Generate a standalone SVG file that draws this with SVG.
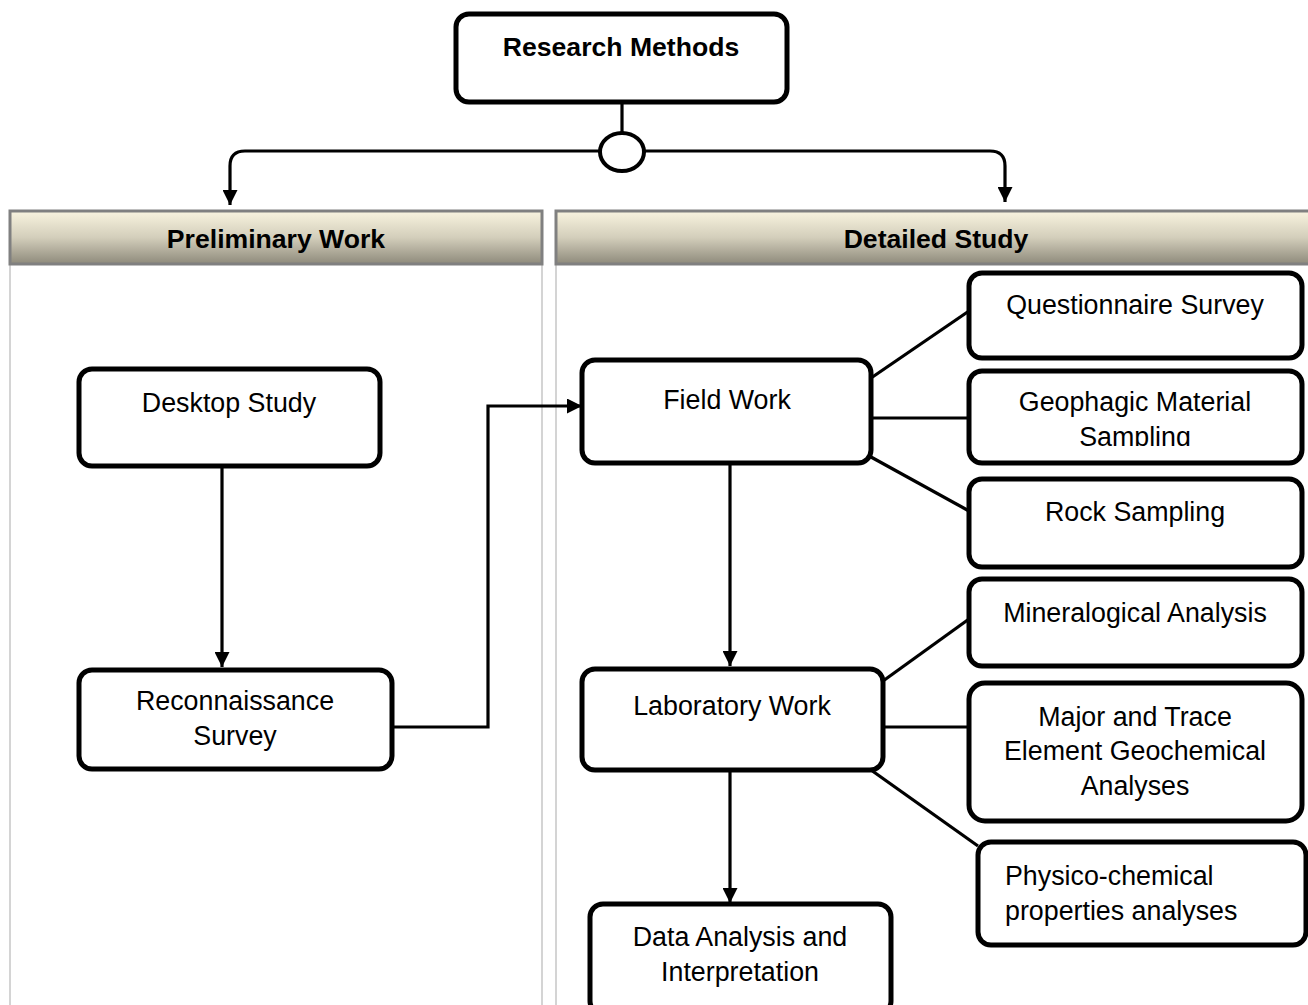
<svg xmlns="http://www.w3.org/2000/svg" width="1308" height="1005" viewBox="0 0 1308 1005">
<style>
.box{fill:#fff;stroke:#000;stroke-width:5}
.t{font-family:"Liberation Sans",Arial,sans-serif;font-size:26.8px;fill:#000;text-anchor:middle}
.b{font-weight:bold;font-size:26.6px}
.s{text-anchor:start}
.hdr{stroke:#808080;stroke-width:3;fill:url(#g)}
.col{stroke:#d4d4d4;stroke-width:2;fill:none}
.c{stroke:#000;stroke-width:3.2;fill:none}
</style>
<defs>
<linearGradient id="g" x1="0" y1="0" x2="0" y2="1">
<stop offset="0" stop-color="#f9f4df"/>
<stop offset="0.5" stop-color="#d3cebb"/>
<stop offset="1" stop-color="#8e8a7b"/>
</linearGradient>
<marker id="ah" markerUnits="userSpaceOnUse" markerWidth="16" markerHeight="15" refX="15" refY="7.5" orient="auto">
<path d="M0,0 L15,7.5 L0,15 z" fill="#000"/>
</marker>
<clipPath id="geoclip"><rect x="969" y="370" width="333" height="76"/></clipPath>
</defs>

<g id="columns">
<line class="col" x1="10" y1="264" x2="10" y2="1005"/>
<line class="col" x1="542" y1="264" x2="542" y2="1005"/>
<line class="col" x1="556" y1="264" x2="556" y2="1005"/>
</g>

<g id="header-preliminary">
<rect class="hdr" x="10" y="211" width="532" height="53"/>
<text class="t b" x="276" y="248">Preliminary Work</text>
</g>
<g id="header-detailed">
<rect class="hdr" x="556" y="211" width="760" height="53"/>
<text class="t b" x="936" y="248">Detailed Study</text>
</g>

<g id="connectors">
<line class="c" x1="622" y1="102" x2="622" y2="133"/>
<path class="c" d="M600,151 H245 Q230,151 230,166 V205" marker-end="url(#ah)"/>
<path class="c" d="M645,151 H990 Q1005,151 1005,166 V202" marker-end="url(#ah)"/>
<line class="c" x1="222" y1="466" x2="222" y2="667" marker-end="url(#ah)"/>
<path class="c" d="M392,727 H488 V406 H582" marker-end="url(#ah)"/>
<line class="c" x1="730" y1="463" x2="730" y2="666" marker-end="url(#ah)"/>
<line class="c" x1="730" y1="770" x2="730" y2="903" marker-end="url(#ah)"/>
<line class="c" x1="871" y1="378" x2="969" y2="311"/>
<line class="c" x1="871" y1="418" x2="969" y2="418"/>
<line class="c" x1="871" y1="457" x2="969" y2="511"/>
<line class="c" x1="883" y1="681" x2="969" y2="619"/>
<line class="c" x1="883" y1="727" x2="969" y2="727"/>
<line class="c" x1="871" y1="770" x2="978" y2="846"/>
</g>

<g id="junction">
<ellipse cx="622" cy="152" rx="22" ry="19" fill="#fff" stroke="#000" stroke-width="4"/>
</g>

<g id="research-methods">
<rect class="box" x="456" y="14" width="331" height="88" rx="13"/>
<text class="t b" x="621" y="56">Research Methods</text>
</g>

<g id="desktop-study">
<rect class="box" x="79" y="369" width="301" height="97" rx="13"/>
<text class="t" x="229" y="412">Desktop Study</text>
</g>

<g id="reconnaissance-survey">
<rect class="box" x="79" y="670" width="313" height="99" rx="13"/>
<text class="t" x="235" y="710">Reconnaissance</text>
<text class="t" x="235" y="745">Survey</text>
</g>

<g id="field-work">
<rect class="box" x="582" y="360" width="289" height="103" rx="13"/>
<text class="t" x="727" y="409">Field Work</text>
</g>

<g id="questionnaire-survey">
<rect class="box" x="969" y="273" width="333" height="85" rx="13"/>
<text class="t" x="1135" y="314">Questionnaire Survey</text>
</g>

<g id="geophagic-sampling">
<rect class="box" x="969" y="371" width="333" height="92" rx="13"/>
<g clip-path="url(#geoclip)">
<text class="t" x="1135" y="411">Geophagic Material</text>
<text class="t" x="1135" y="446">Sampling</text>
</g>
</g>

<g id="rock-sampling">
<rect class="box" x="969" y="479" width="333" height="88" rx="13"/>
<text class="t" x="1135" y="521">Rock Sampling</text>
</g>

<g id="laboratory-work">
<rect class="box" x="582" y="669" width="301" height="101" rx="13"/>
<text class="t" x="732" y="715">Laboratory Work</text>
</g>

<g id="mineralogical-analysis">
<rect class="box" x="969" y="579" width="333" height="87" rx="13"/>
<text class="t" x="1135" y="622">Mineralogical Analysis</text>
</g>

<g id="major-trace">
<rect class="box" x="969" y="683" width="333" height="138" rx="16"/>
<text class="t" x="1135" y="726">Major and Trace</text>
<text class="t" x="1135" y="760">Element Geochemical</text>
<text class="t" x="1135" y="795">Analyses</text>
</g>

<g id="physico-chemical">
<rect class="box" x="978" y="842" width="328" height="103" rx="13"/>
<text class="t s" x="1005" y="885">Physico-chemical</text>
<text class="t s" x="1005" y="920">properties analyses</text>
</g>

<g id="data-analysis">
<rect class="box" x="590" y="904" width="301" height="110" rx="13"/>
<text class="t" x="740" y="946">Data Analysis and</text>
<text class="t" x="740" y="981">Interpretation</text>
</g>
</svg>
